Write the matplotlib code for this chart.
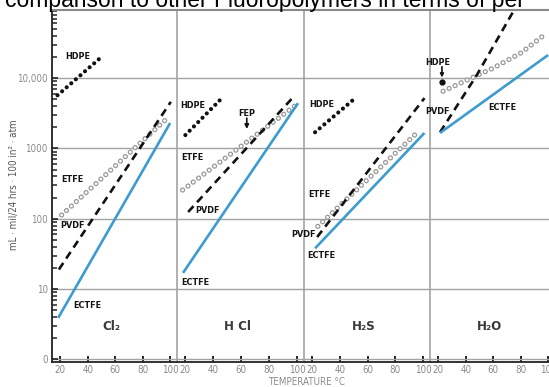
import matplotlib
matplotlib.use('Agg')
import matplotlib.pyplot as plt
from matplotlib import font_manager as fm


def font_available(name):
    try:
        fm.findfont(fm.FontProperties(family=name), fallback_to_default=False)
        return True
    except ValueError:
        return False


NARROW = font_available('Liberation Sans Narrow')
plt.rcParams['font.family'] = ['Liberation Sans Narrow', 'DejaVu Sans'] if NARROW else ['DejaVu Sans']
plt.rcParams['font.stretch'] = 'condensed'

W, H = 549, 387

GASES = ['Cl₂', 'H Cl', 'H₂S', 'H₂O']
TEMP_TICKS = [20, 40, 60, 80, 100]
Y_TICKS = [1, 10, 100, 1000, 10000]
Y_TICK_LABELS = ['0', '10', '100', '1000', '10,000']

# one inner list per gas panel: Cl2, HCl, H2S, H2O  (temperature in C, permeation)
HDPE_T = [[18, 50], [20, 47], [22, 52], [23]]
HDPE_V = [[5700, 20000], [1550, 5400], [1700, 5400], [8800]]

ETFE_T = [[21, 98], [18, 99], [24, 96], [23.5, 41, 60, 80, 99]]
ETFE_V = [[113, 2700], [256, 4100], [78, 1700], [6500, 9400, 13900, 22700, 43700]]

PVDF_T = [[19, 100.5], [22, 98.5], [23.5, 101], [21.3, 48, 74.4]]
PVDF_V = [[19, 4600], [125, 5700], [55, 5200], [1700, 11000, 87000]]

ECTFE_T = [[18.5, 100], [18.3, 100.7], [22, 101], [21.3, 100]]
ECTFE_V = [[3.9, 2300], [17, 4400], [38, 1660], [1660, 21300]]

# label text, temperature, value  (per panel)
LABELS = [
    [('HDPE', 33, 20000), ('ETFE', 28.6, 356), ('PVDF', 28.6, 81), ('ECTFE', 39.5, 5.9)],
    [('HDPE', 25.5, 4140), ('FEP', 64, 3180), ('ETFE', 24.7, 755), ('PVDF', 35.5, 133),
     ('ECTFE', 27, 12.6)],
    [('HDPE', 27, 4280), ('ETFE', 24.8, 218), ('PVDF', 14, 59), ('ECTFE', 26.3, 30.5)],
    [('HDPE', 19.8, 16900), ('PVDF', 19.1, 3300), ('ECTFE', 67, 3760)],
]

BLUE = '#3d9bd0'
GRID = '#a3a3a3'
TICK_GREY = '#8a8a8a'
LABEL_SIZE = 7.5 if NARROW else 6.5
TICK_SIZE = 8 if NARROW else 7

fig = plt.figure(figsize=(W / 100, H / 100), dpi=100)
fig.patch.set_facecolor('white')

edges = [52, 177, 304, 430, 555]
for i in range(4):
    ax = fig.add_axes([edges[i] / W, 25 / H, (edges[i + 1] - edges[i]) / W, 352 / H])
    ax.set_yscale('log')
    ax.set_ylim(0.92, 9.3e4)
    ax.set_xlim(14, 105)
    ax.set_facecolor('none')

    # ETFE - open grey circles (grey dots with white centres)
    ax.plot(ETFE_T[i], ETFE_V[i], color='#9a9a9a', lw=3.8,
            linestyle=(0, (0.01, 1.25)), dash_capstyle='round')
    ax.plot(ETFE_T[i], ETFE_V[i], color='white', lw=2.0,
            linestyle=(0, (0.01, 2.384)), dash_capstyle='round')

    # PVDF - dashed black
    ax.plot(PVDF_T[i], PVDF_V[i], color='#111111', lw=1.9,
            linestyle=(0, (3.0, 2.0)), dash_capstyle='butt')

    # HDPE - dotted black
    if len(HDPE_T[i]) > 1:
        ax.plot(HDPE_T[i], HDPE_V[i], color='#111111', lw=3.0,
                linestyle=(0, (0.01, 1.45)), dash_capstyle='round')
    else:
        ax.plot(HDPE_T[i], HDPE_V[i], 'o', color='#111111', ms=3.5)

    # ECTFE - solid blue
    ax.plot(ECTFE_T[i], ECTFE_V[i], color=BLUE, lw=1.9, solid_capstyle='butt')

    for txt, t, v in LABELS[i]:
        ax.text(t, v, txt, ha='center', va='center', fontsize=LABEL_SIZE,
                fontweight='bold', color='#151515', clip_on=False)

    ax.text(57.5, 2.9, GASES[i], ha='center', va='center', fontsize=9.5,
            fontweight='bold', color='#3a3a3a')

    # x axis
    ax.set_xticks(TEMP_TICKS)
    ax.set_xticklabels([str(t) for t in TEMP_TICKS])
    ax.tick_params(axis='x', direction='in', length=4.5, width=1.4, color='#222222',
                   labelsize=TICK_SIZE, labelcolor=TICK_GREY, pad=2)

    # y axis
    ax.set_yticks(Y_TICKS)
    ax.grid(axis='y', which='major', color=GRID, lw=1.0)
    ax.grid(axis='x', visible=False)
    ax.set_axisbelow(True)
    if i == 0:
        ax.set_yticklabels(Y_TICK_LABELS)
        ax.tick_params(axis='y', which='major', direction='in', length=4, width=1.2,
                       color='#222222', labelsize=TICK_SIZE, labelcolor=TICK_GREY, pad=3)
        ax.tick_params(axis='y', which='minor', direction='in', length=3.5, width=1.1,
                       color='#222222')
        ax.spines['left'].set_color('#222222')
        ax.spines['left'].set_linewidth(1.3)
    else:
        ax.tick_params(axis='y', which='both', left=False, labelleft=False)
        ax.spines['left'].set_color(GRID)
        ax.spines['left'].set_linewidth(1.2)

    ax.spines['right'].set_visible(False)
    ax.spines['top'].set_color('#8a8a8a')
    ax.spines['top'].set_linewidth(1.5)
    ax.spines['bottom'].set_color('#222222')
    ax.spines['bottom'].set_linewidth(1.3)

    if i == 1:
        # FEP pointer
        ax.annotate('', xy=(64, 1890), xytext=(64, 2700),
                    arrowprops=dict(arrowstyle='-|>', color='#111111', lw=1.2,
                                    mutation_scale=6, shrinkA=0, shrinkB=0))
    if i == 3:
        # HDPE pointer to single point
        ax.annotate('', xy=(22.7, 10200), xytext=(22.7, 14500),
                    arrowprops=dict(arrowstyle='-|>', color='#111111', lw=1.2,
                                    mutation_scale=5, shrinkA=0, shrinkB=0))

fig.text(14 / W, 1 - 185 / H, 'mL · mil/24 hrs · 100 in² · atm', rotation=90,
         ha='center', va='center', fontsize=7, color='#555555')
fig.text(307 / W, 1 - 382 / H, 'TEMPERATURE °C', ha='center', va='center',
         fontsize=TICK_SIZE, color=TICK_GREY)

# cropped heading of the source page
fig.text(5 / W, 1 - 7.5 / H, 'comparison to other Fluoropolymers in terms of per',
         ha='left', va='baseline', fontsize=16.5, color='black', family='Liberation Sans')

fig.savefig('out.png', dpi=100)
